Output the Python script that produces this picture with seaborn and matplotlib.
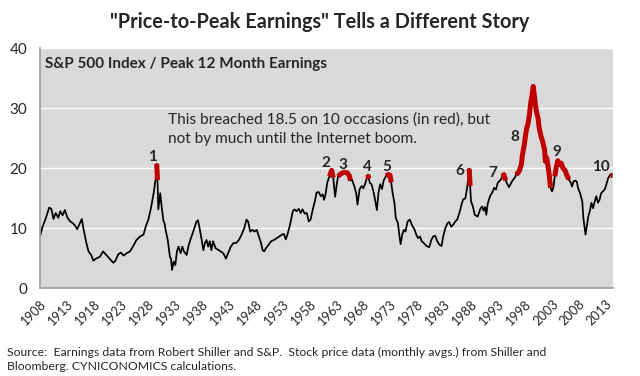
import numpy as np
import pandas as pd
import matplotlib
matplotlib.use("Agg")
import matplotlib.pyplot as plt
import seaborn as sns

# ---- data ----
years = [
    1908.0, 1908.4, 1909.1, 1909.7, 1910.1, 1910.5, 1910.9, 1911.4, 1911.75, 1912.2,
    1912.6, 1913.1, 1913.6, 1914.1, 1914.5, 1914.9, 1915.3, 1915.75, 1916.1, 1916.6,
    1917.0, 1917.5, 1917.9, 1918.4, 1919.1, 1919.7, 1920.3, 1920.9, 1921.6, 1922.0,
    1922.5, 1923.0, 1923.5, 1924.1, 1924.7, 1925.3, 1925.9, 1926.6, 1927.2, 1927.6,
    1928.1, 1928.6, 1929.1, 1929.45, 1929.65, 1929.8, 1929.95, 1930.3, 1930.6, 1930.9,
    1931.1, 1931.3, 1931.7, 1932.1, 1932.3, 1932.5, 1932.8, 1933.1, 1933.4, 1933.7,
    1934.1, 1934.4, 1934.7, 1935.2, 1935.6, 1936.0, 1936.5, 1937.0, 1937.3, 1937.6,
    1938.0, 1938.3, 1938.6, 1938.9, 1939.2, 1939.5, 1939.8, 1940.1, 1940.6, 1941.0,
    1941.5, 1942.0, 1942.5, 1942.9, 1943.4, 1943.9, 1944.4, 1944.9, 1945.4, 1945.9,
    1946.3, 1946.6, 1947.0, 1947.4, 1947.8, 1948.2, 1948.6, 1949.0, 1949.3, 1949.6,
    1949.9, 1950.4, 1950.9, 1951.4, 1951.9, 1952.4, 1952.9, 1953.25, 1953.6, 1954.0,
    1954.4, 1954.9, 1955.2, 1955.6, 1956.0, 1956.35, 1956.7, 1957.1, 1957.5, 1957.85,
    1958.2, 1958.6, 1959.0, 1959.3, 1959.7, 1960.1, 1960.45, 1960.7, 1960.95, 1961.3,
    1961.7, 1962.1, 1962.4, 1962.6, 1962.75, 1963.1, 1963.3, 1963.75, 1964.4, 1965.0,
    1965.4, 1965.6, 1965.9, 1966.3, 1966.7, 1966.9, 1967.3, 1967.7, 1968.0, 1968.4,
    1968.8, 1969.0, 1969.2, 1969.5, 1969.9, 1970.2, 1970.5, 1970.8, 1971.1, 1971.45,
    1971.75, 1972.2, 1972.6, 1972.95, 1973.15, 1973.4, 1973.75, 1974.0, 1974.4, 1974.7,
    1974.9, 1975.2, 1975.5, 1975.8, 1976.2, 1976.6, 1977.0, 1977.5, 1977.8, 1978.15,
    1978.5, 1978.8, 1979.2, 1979.7, 1980.2, 1980.6, 1980.95, 1981.3, 1981.7, 1982.1,
    1982.5, 1982.8, 1983.2, 1983.6, 1983.9, 1984.3, 1984.7, 1985.05, 1985.4, 1985.8,
    1986.2, 1986.5, 1986.9, 1987.2, 1987.45, 1987.62, 1987.8, 1987.95, 1988.3, 1988.65,
    1989.2, 1989.7, 1990.0, 1990.3, 1990.55, 1990.8, 1991.05, 1991.3, 1991.6, 1991.9,
    1992.25, 1992.6, 1992.9, 1993.2, 1993.5, 1993.8, 1994.05, 1994.4, 1994.7, 1995.0,
    1995.4, 1995.8, 1996.1, 1996.3, 1996.7, 1997.0, 1997.3, 1997.5, 1997.85, 1998.1,
    1998.3, 1998.5, 1998.8, 1999.0, 1999.3, 1999.5, 1999.7, 1999.9, 2000.1, 2000.4,
    2000.6, 2000.95, 2001.25, 2001.6, 2001.75, 2002.0, 2002.25, 2002.5, 2002.7, 2003.0,
    2003.25, 2003.5, 2003.75, 2004.05, 2004.4, 2004.7, 2005.0, 2005.4, 2005.7, 2006.1,
    2006.5, 2006.7, 2007.0, 2007.35, 2007.6, 2007.8, 2008.2, 2008.6, 2008.8, 2009.2,
    2009.5, 2009.7, 2010.0, 2010.3, 2010.6, 2010.9, 2011.2, 2011.5, 2011.8, 2012.1,
    2012.4, 2012.75, 2013.05, 2013.4, 2013.8, 2014.1,
]
pe_ratio = [
    8.6, 10.0, 11.7, 13.4, 13.2, 11.5, 12.5, 11.7, 12.8, 12.1,
    13.0, 11.7, 11.1, 10.8, 10.4, 9.8, 10.6, 11.5, 9.7, 7.5,
    6.1, 5.5, 4.55, 4.9, 5.2, 6.1, 5.5, 4.9, 4.2, 4.55,
    5.6, 5.9, 5.4, 5.8, 6.1, 7.0, 8.0, 8.6, 8.9, 10.2,
    11.4, 13.4, 15.9, 18.2, 20.7, 18.0, 13.1, 15.8, 13.3, 11.2,
    10.8, 9.7, 8.0, 5.2, 4.9, 3.0, 4.4, 3.8, 6.1, 6.9,
    5.8, 6.9, 6.1, 5.5, 7.2, 8.3, 9.6, 11.0, 11.3, 10.0,
    8.0, 6.3, 7.5, 8.0, 6.9, 7.8, 6.3, 7.8, 6.6, 6.4,
    6.1, 5.8, 4.9, 5.8, 6.9, 7.5, 7.5, 8.0, 8.9, 10.0,
    11.4, 11.1, 9.4, 9.7, 9.4, 9.7, 8.6, 7.5, 6.3, 6.1,
    6.6, 7.2, 7.8, 8.0, 8.3, 8.6, 8.9, 9.0, 8.1, 9.2,
    10.6, 12.8, 13.1, 12.8, 13.2, 12.5, 13.1, 12.4, 12.5, 11.1,
    11.4, 13.1, 14.5, 15.9, 16.0, 15.3, 15.6, 14.7, 15.5, 17.6,
    18.6, 19.6, 18.4, 16.5, 15.2, 17.6, 18.6, 19.0, 19.3, 19.2,
    18.7, 17.9, 18.0, 17.0, 15.6, 13.9, 16.5, 17.0, 16.6, 17.6,
    18.9, 18.2, 17.5, 17.3, 15.9, 14.5, 13.0, 15.9, 17.3, 16.5,
    17.9, 18.7, 18.9, 18.8, 17.6, 15.9, 14.2, 11.7, 10.8, 8.6,
    7.3, 8.9, 9.7, 9.4, 11.1, 11.4, 10.5, 9.7, 8.9, 8.3,
    8.6, 7.8, 7.5, 7.0, 6.8, 8.0, 8.6, 8.7, 7.8, 7.2,
    7.0, 8.6, 10.0, 10.8, 11.0, 10.2, 10.6, 11.1, 11.4, 12.5,
    13.9, 14.8, 14.9, 16.5, 18.2, 19.9, 17.0, 14.5, 13.6, 12.2,
    11.9, 13.2, 13.6, 12.9, 13.5, 12.2, 14.0, 14.8, 15.5, 15.9,
    16.7, 16.4, 17.5, 17.8, 18.1, 18.6, 18.9, 17.9, 17.3, 16.8,
    17.5, 18.1, 18.4, 18.9, 19.2, 19.7, 20.6, 22.2, 23.9, 25.6,
    26.7, 27.2, 28.9, 30.6, 32.2, 33.6, 32.2, 30.6, 29.4, 28.3,
    26.7, 25.3, 24.4, 23.1, 21.1, 21.7, 20.3, 18.6, 16.7, 16.1,
    16.8, 18.6, 20.0, 21.2, 20.6, 20.8, 20.0, 19.6, 18.9, 18.1,
    17.5, 16.9, 17.8, 17.9, 17.7, 16.7, 15.8, 14.4, 11.7, 8.9,
    10.6, 11.9, 12.8, 14.2, 13.3, 14.4, 15.3, 14.2, 14.7, 15.8,
    16.1, 16.4, 17.2, 18.3, 18.9, 18.9,
]
threshold = 18.5

tick_years = list(range(1908, 2014, 5))
y_ticks = [0, 10, 20, 30, 40]

episode_labels = ["1", "2", "3", "4", "5", "6", "7", "8", "9", "10"]
label_x = [1928.8, 1961.0, 1964.2, 1968.7, 1972.4, 1985.8, 1991.9, 1996.1, 2003.9, 2012.1]
label_y = [21.8, 20.8, 20.5, 20.2, 20.2, 19.5, 19.2, 25.2, 22.7, 20.2]

title = '"Price-to-Peak Earnings" Tells a Different Story'
subtitle = "S&P 500 Index / Peak 12 Month Earnings"
note1 = "This breached 18.5 on 10 occasions (in red), but"
note2 = "not by much until the Internet boom."
source1 = "Source:  Earnings data from Robert Shiller and S&P.  Stock price data (monthly avgs.) from Shiller and"
source2 = "Bloomberg. CYNICONOMICS calculations."

df = pd.DataFrame({"year": years, "pe": pe_ratio})

# red runs: a segment is red when it starts at a month above the threshold
above = df["pe"].to_numpy() >= threshold
red_rows = []
run_id = -1
prev_above = False
for i in range(len(df)):
    if above[i] and not prev_above:
        run_id += 1
    if above[i] or prev_above:
        red_rows.append((df["year"].iloc[i], df["pe"].iloc[i], run_id))
    prev_above = above[i]
red_df = pd.DataFrame(red_rows, columns=["year", "pe", "run"])

# ---- styling ----
sns.set_theme(style="white", rc={
    "axes.facecolor": "#D9D9D9",
    "axes.edgecolor": "#A0A0A0",
    "grid.color": "white",
})
plt.rcParams["font.family"] = ["Lato", "DejaVu Sans"]

fig = plt.figure(figsize=(6.4, 3.76), dpi=100)
ax = fig.add_axes([40 / 640, 1 - 288 / 376, 573 / 640, 240 / 376])

ax.yaxis.grid(True, color="white", linewidth=1.0)
ax.set_axisbelow(True)

sns.lineplot(data=df, x="year", y="pe", color="black", linewidth=1.25, ax=ax,
             sort=False, estimator=None)
sns.lineplot(data=red_df, x="year", y="pe", units="run", color="#C00000",
             linewidth=3.6, ax=ax, sort=False, estimator=None,
             solid_capstyle="butt")

ax.set_xlim(1908, 2014.3)
ax.set_ylim(0, 40)
ax.set_xticks(tick_years)
ax.set_xticklabels([str(t) for t in tick_years], rotation=45, ha="right",
                   rotation_mode="anchor", fontsize=9.3)
ax.set_yticks(y_ticks)
ax.set_yticklabels([str(t) for t in y_ticks], fontsize=11)
ax.tick_params(axis="x", direction="out", length=5, width=0.8, color="#A0A0A0", pad=2)
ax.tick_params(axis="y", direction="out", length=5, width=0.8, color="#A0A0A0", pad=4)
ax.set_xlabel("")
ax.set_ylabel("")
for s in ["top", "right"]:
    ax.spines[s].set_visible(False)
ax.spines["left"].set_color("#A0A0A0")
ax.spines["bottom"].set_color("#A0A0A0")

ax.text(0.009, 0.933, subtitle, transform=ax.transAxes, fontsize=11,
        fontweight="bold", ha="left", va="center")
ax.text(0.223, 0.70, note1, transform=ax.transAxes, fontsize=11.1, ha="left", va="center")
ax.text(0.223, 0.621, note2, transform=ax.transAxes, fontsize=11.1, ha="left", va="center")

for lab, lx, ly in zip(episode_labels, label_x, label_y):
    ax.text(lx, ly, lab, fontsize=11, fontweight="bold", ha="center", va="center")

fig.text(0.5, 1 - 22 / 376, title, fontsize=14.3, fontweight="bold",
         ha="center", va="center")
fig.text(7 / 640, 1 - 352 / 376, source1, fontsize=8.8, ha="left", va="center")
fig.text(7 / 640, 1 - 367 / 376, source2, fontsize=8.8, ha="left", va="center")

fig.savefig("out.png", dpi=100)
